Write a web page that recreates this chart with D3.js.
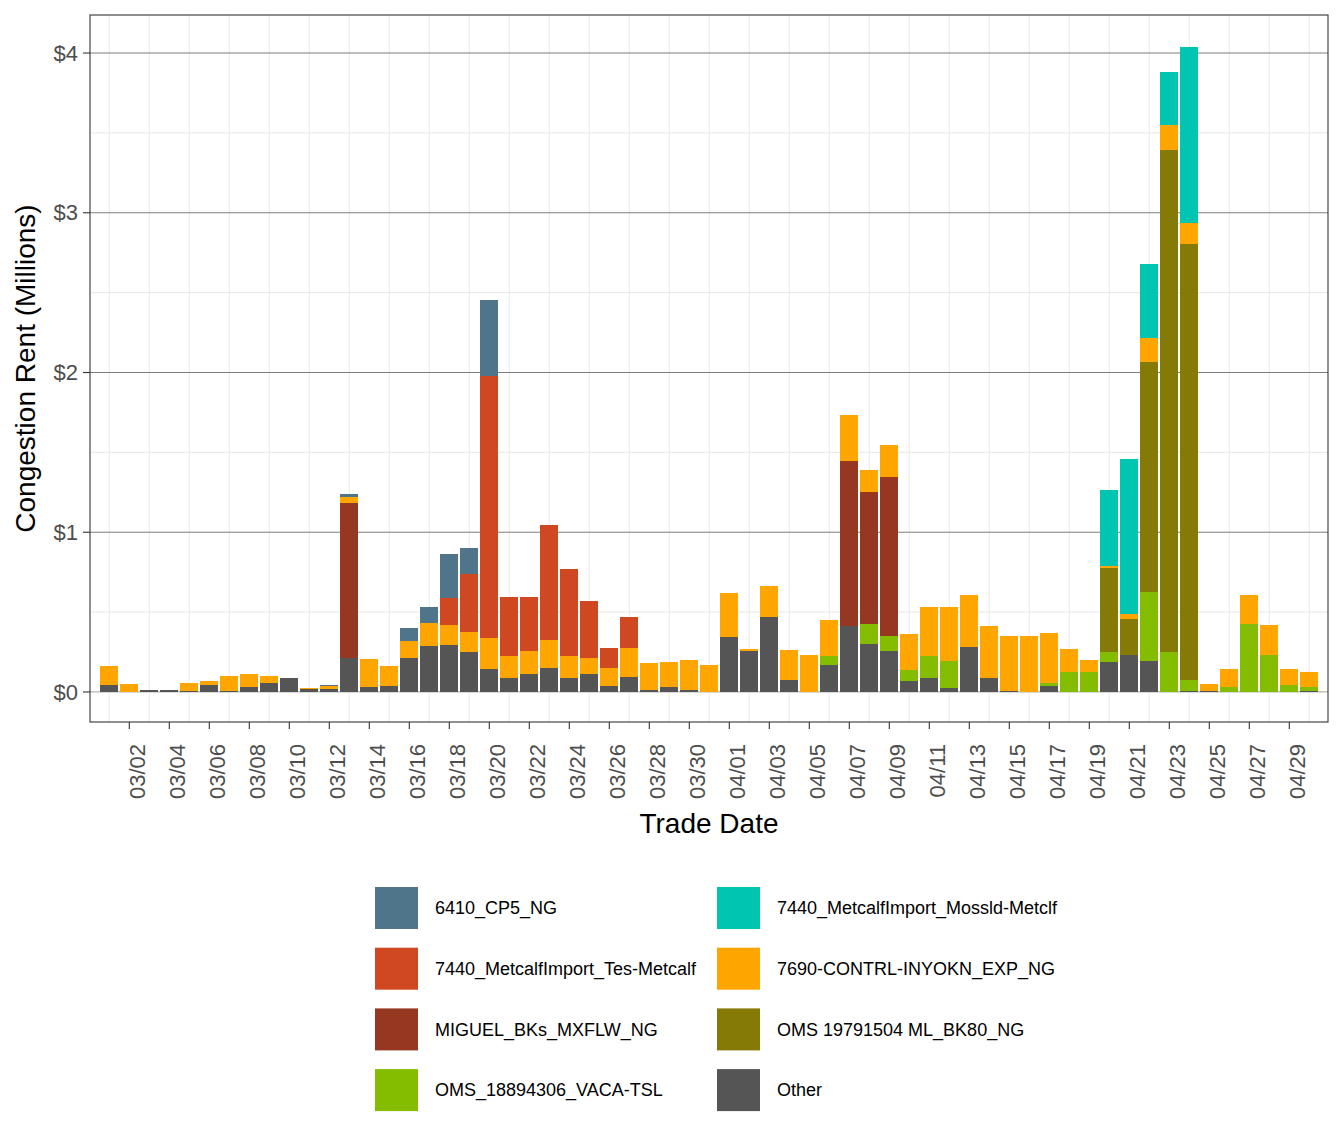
<!DOCTYPE html>
<html>
<head>
<meta charset="utf-8">
<script src="https://cdn.jsdelivr.net/npm/d3@7"></script>
<style>
  body { margin: 0; background: #ffffff; }
  text { font-family: 'Liberation Sans', Arial, sans-serif; }
</style>
</head>
<body>
<div id="chart"></div>
<script>
// trade dates
const dates = ['03/01','03/02','03/03','03/04','03/05','03/06','03/07','03/08','03/09','03/10',
  '03/11','03/12','03/13','03/14','03/15','03/16','03/17','03/18','03/19','03/20',
  '03/21','03/22','03/23','03/24','03/25','03/26','03/27','03/28','03/29','03/30','03/31',
  '04/01','04/02','04/03','04/04','04/05','04/06','04/07','04/08','04/09','04/10',
  '04/11','04/12','04/13','04/14','04/15','04/16','04/17','04/18','04/19','04/20',
  '04/21','04/22','04/23','04/24','04/25','04/26','04/27','04/28','04/29','04/30']

// congestion rent in $ millions, one value per date
const other = [0.044,0,0.01,0.01,0.006,0.044,0.006,0.031,0.056,0.088,
  0.019,0.019,0.213,0.031,0.038,0.213,0.288,0.294,0.251,0.144,
  0.088,0.113,0.150,0.088,0.113,0.038,0.094,0.0125,0.031,0.0125,0,
  0.344,0.257,0.470,0.075,0,0.169,0.413,0.301,0.257,0.069,
  0.088,0.025,0.282,0.088,0.006,0,0.038,0,0,0.187,
  0.234,0.196,0,0.008,0.005,0,0,0,0,0.005]
const vacaTsl = [0,0,0,0,0,0,0,0,0,0,
  0,0,0,0,0,0,0,0,0,0,
  0,0,0,0,0,0,0,0,0,0,0,
  0,0,0,0,0,0.056,0,0.125,0.094,0.069,
  0.137,0.169,0,0,0,0,0.018,0.125,0.123,0.063,
  0,0.427,0.248,0.064,0.003,0.028,0.427,0.234,0.041,0.023]
const mlBk80 = [0,0,0,0,0,0,0,0,0,0,
  0,0,0,0,0,0,0,0,0,0,
  0,0,0,0,0,0,0,0,0,0,0,
  0,0,0,0,0,0,0,0,0,0,
  0,0,0,0,0,0,0,0,0,0.526,
  0.221,1.442,3.146,2.732,0,0,0,0,0,0]
const miguel = [0,0,0,0,0,0,0,0,0,0,
  0,0,0.971,0,0,0,0,0,0,0,
  0,0,0,0,0,0,0,0,0,0,0,
  0,0,0,0,0,0,1.034,0.827,0.996,0,
  0,0,0,0,0,0,0,0,0,0,
  0,0,0,0,0,0,0,0,0,0]
const inyokn = [0.119,0.050,0,0,0.050,0.025,0.094,0.082,0.044,0,
  0.006,0.019,0.037,0.176,0.125,0.106,0.144,0.126,0.125,0.194,
  0.137,0.144,0.176,0.137,0.100,0.112,0.182,0.169,0.157,0.188,0.169,
  0.276,0.0125,0.194,0.188,0.232,0.226,0.288,0.137,0.200,0.225,
  0.307,0.338,0.326,0.325,0.345,0.351,0.314,0.144,0.075,0.012,
  0.036,0.154,0.157,0.129,0.039,0.113,0.177,0.188,0.105,0.099]
const tesMetcalf = [0,0,0,0,0,0,0,0,0,0,
  0,0,0,0,0,0,0,0.171,0.365,1.643,
  0.370,0.338,0.720,0.545,0.357,0.126,0.194,0,0,0,0,
  0,0,0,0,0,0,0,0,0,0,
  0,0,0,0,0,0,0,0,0,0,
  0,0,0,0,0,0,0,0,0,0]
const mossld = [0,0,0,0,0,0,0,0,0,0,
  0,0,0,0,0,0,0,0,0,0,
  0,0,0,0,0,0,0,0,0,0,0,
  0,0,0,0,0,0,0,0,0,0,
  0,0,0,0,0,0,0,0,0,0.476,
  0.965,0.458,0.330,1.103,0,0,0,0,0,0]
const cp5 = [0,0,0,0,0,0,0,0,0,0,
  0,0.006,0.019,0,0,0.082,0.100,0.273,0.161,0.474,
  0,0,0,0,0,0,0,0,0,0,0,
  0,0,0,0,0,0,0,0,0,0,
  0,0,0,0,0,0,0,0,0,0,
  0,0,0,0,0,0,0,0,0,0]

// constraint names, bottom of the stack first
const constraints = ['Other','OMS_18894306_VACA-TSL','OMS 19791504 ML_BK80_NG','MIGUEL_BKs_MXFLW_NG',
  '7690-CONTRL-INYOKN_EXP_NG','7440_MetcalfImport_Tes-Metcalf','7440_MetcalfImport_Mossld-Metclf','6410_CP5_NG']
const seriesValues = [other, vacaTsl, mlBk80, miguel, inyokn, tesMetcalf, mossld, cp5]
const colors = ['#555555','#84bd00','#857a05','#963722','#ffa500','#d04821','#00c6b1','#4f758b']
// legend reading order (two columns, by row)
const legendOrder = ['6410_CP5_NG','7440_MetcalfImport_Mossld-Metclf','7440_MetcalfImport_Tes-Metcalf',
  '7690-CONTRL-INYOKN_EXP_NG','MIGUEL_BKs_MXFLW_NG','OMS 19791504 ML_BK80_NG','OMS_18894306_VACA-TSL','Other']
const yTicks = [0, 1, 2, 3, 4]
const yMinor = [0.5, 1.5, 2.5, 3.5]

const width = 1344, height = 1142
const panel = { left: 90, top: 15, right: 1328, bottom: 722 }

const svg = d3.select('#chart')
  .append('svg')
  .attr('width', width)
  .attr('height', height)

svg.append('rect').attr('width', width).attr('height', height).attr('fill', '#ffffff')

// tidy table for the stack
const table = dates.map((d, i) => {
  const row = { date: d }
  constraints.forEach((c, j) => { row[c] = seriesValues[j][i] })
  return row
})

const color = d3.scaleOrdinal().domain(constraints).range(colors)

const x = d3.scaleBand()
  .domain(dates)
  .range([panel.left + 9.3, panel.right - 8.7])
  .paddingInner(0.1)
  .paddingOuter(0.05)

const y = d3.scaleLinear()
  .domain([-0.188, 4.238])
  .range([panel.bottom, panel.top])

// grid
const grid = svg.append('g')
grid.selectAll('.vgrid')
  .data(dates.filter((d, i) => i % 2 === 0))
  .join('line')
  .attr('x1', d => x(d) + x.bandwidth() / 2)
  .attr('x2', d => x(d) + x.bandwidth() / 2)
  .attr('y1', panel.top)
  .attr('y2', panel.bottom)
  .attr('stroke', '#ebebeb')
  .attr('stroke-width', 1.1)
grid.selectAll('.hminor')
  .data(yMinor)
  .join('line')
  .attr('x1', panel.left)
  .attr('x2', panel.right)
  .attr('y1', d => y(d))
  .attr('y2', d => y(d))
  .attr('stroke', '#ebebeb')
  .attr('stroke-width', 1.1)
grid.selectAll('.hmajor')
  .data(yTicks.filter(d => d > 0))
  .join('line')
  .attr('x1', panel.left)
  .attr('x2', panel.right)
  .attr('y1', d => y(d))
  .attr('y2', d => y(d))
  .attr('stroke', '#6e6e6e')
  .attr('stroke-width', 0.9)

// zero line (under the bars)
grid.append('line')
  .attr('x1', panel.left)
  .attr('x2', panel.right)
  .attr('y1', y(0))
  .attr('y2', y(0))
  .attr('stroke', '#b5b5b5')
  .attr('stroke-width', 1.3)

// stacked bars
const stacked = d3.stack().keys(constraints)(table)

svg.append('g')
  .attr('shape-rendering', 'crispEdges')
  .selectAll('g')
  .data(stacked)
  .join('g')
  .attr('fill', d => color(d.key))
  .selectAll('rect')
  .data(d => d.filter(p => p[1] - p[0] > 0))
  .join('rect')
  .attr('x', d => x(d.data.date))
  .attr('width', x.bandwidth())
  .attr('y', d => y(d[1]))
  .attr('height', d => y(d[0]) - y(d[1]))

// panel border
svg.append('rect')
  .attr('x', panel.left)
  .attr('y', panel.top)
  .attr('width', panel.right - panel.left)
  .attr('height', panel.bottom - panel.top)
  .attr('fill', 'none')
  .attr('stroke', '#333333')
  .attr('stroke-width', 1.1)

// y axis
const yAxis = svg.append('g')
yAxis.selectAll('line')
  .data(yTicks)
  .join('line')
  .attr('x1', panel.left - 7)
  .attr('x2', panel.left)
  .attr('y1', d => y(d))
  .attr('y2', d => y(d))
  .attr('stroke', '#333333')
  .attr('stroke-width', 1.1)
yAxis.selectAll('text')
  .data(yTicks)
  .join('text')
  .attr('x', panel.left - 12)
  .attr('y', d => y(d))
  .attr('dy', '0.35em')
  .attr('text-anchor', 'end')
  .attr('font-size', 22)
  .attr('fill', '#4d4d4d')
  .text(d => '$' + d)

// x axis, labels every other day
const tickDates = dates.filter((d, i) => i % 2 === 1)
const xAxis = svg.append('g')
xAxis.selectAll('line')
  .data(tickDates)
  .join('line')
  .attr('x1', d => x(d) + x.bandwidth() / 2)
  .attr('x2', d => x(d) + x.bandwidth() / 2)
  .attr('y1', panel.bottom)
  .attr('y2', panel.bottom + 7)
  .attr('stroke', '#333333')
  .attr('stroke-width', 1.1)
xAxis.selectAll('text')
  .data(tickDates)
  .join('text')
  .attr('transform', d => `translate(${x(d) + x.bandwidth() / 2 + 15.5},${panel.bottom + 22}) rotate(-90)`)
  .attr('text-anchor', 'end')
  .attr('font-size', 22)
  .attr('fill', '#4d4d4d')
  .text(d => d)

// axis titles
svg.append('text')
  .attr('x', (panel.left + panel.right) / 2)
  .attr('y', 833)
  .attr('text-anchor', 'middle')
  .attr('font-size', 28)
  .attr('fill', '#000000')
  .text('Trade Date')

svg.append('text')
  .attr('transform', `translate(35,${(panel.top + panel.bottom) / 2}) rotate(-90)`)
  .attr('text-anchor', 'middle')
  .attr('font-size', 28)
  .attr('fill', '#000000')
  .text('Congestion Rent (Millions)')

// legend
const legend = svg.append('g')
const legendItem = legend.selectAll('g')
  .data(legendOrder)
  .join('g')
  .attr('transform', (d, i) => `translate(${i % 2 === 0 ? 375 : 717},${887 + Math.floor(i / 2) * 60.7})`)
legendItem.append('rect')
  .attr('width', 43)
  .attr('height', 42)
  .attr('fill', d => color(d))
legendItem.append('text')
  .attr('x', 60)
  .attr('y', 21)
  .attr('dy', '0.35em')
  .attr('font-size', 18)
  .attr('fill', '#000000')
  .text(d => d)
</script>
</body>
</html>
